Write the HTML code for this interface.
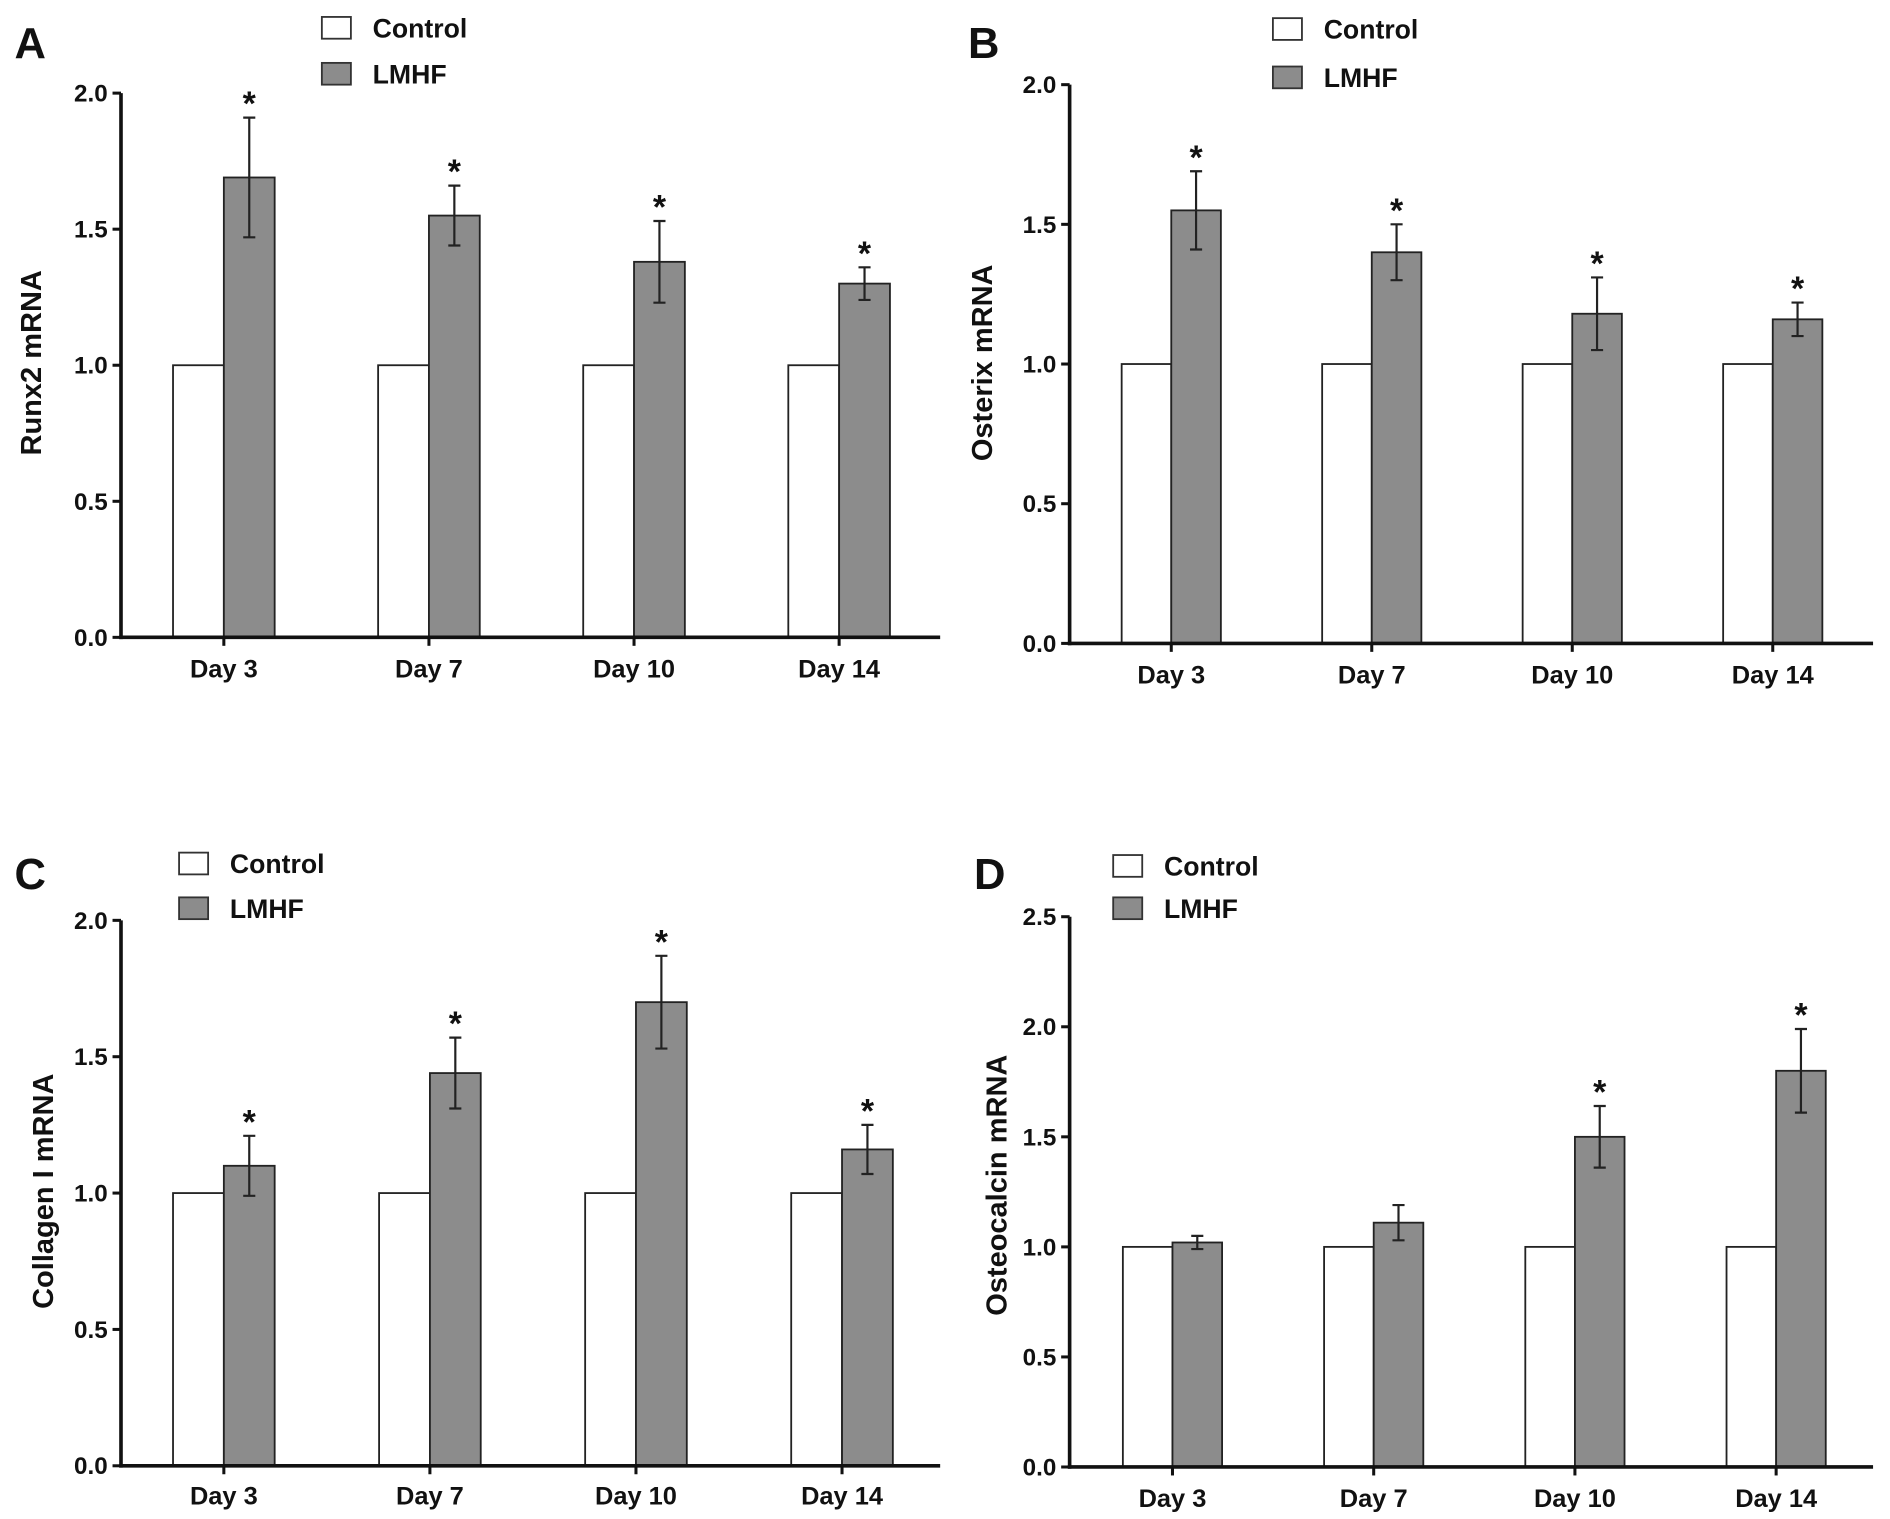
<!DOCTYPE html>
<html><head><meta charset="utf-8">
<style>html,body{margin:0;padding:0;background:#fff}svg{display:block}text{font-family:"Liberation Sans",Arial,sans-serif;font-weight:bold;fill:#111}</style>
</head><body>
<svg id="fig" width="1890" height="1519" viewBox="0 0 1562 1256" preserveAspectRatio="none" xmlns="http://www.w3.org/2000/svg"></svg>
<script>
const categories = ["Day 3","Day 7","Day 10","Day 14"];
const controlA = [1,1,1,1];
const lmhfA = [1.69,1.55,1.38,1.30];
const errA = [0.22,0.11,0.15,0.06];
const starA = [true,true,true,true];
const controlB = [1,1,1,1];
const lmhfB = [1.55,1.40,1.18,1.16];
const errB = [0.14,0.10,0.13,0.06];
const starB = [true,true,true,true];
const controlC = [1,1,1,1];
const lmhfC = [1.10,1.44,1.70,1.16];
const errC = [0.11,0.13,0.17,0.09];
const starC = [true,true,true,true];
const controlD = [1,1,1,1];
const lmhfD = [1.02,1.11,1.50,1.80];
const errD = [0.03,0.08,0.14,0.19];
const starD = [false,false,true,true];
const ticksABC = ["0.0","0.5","1.0","1.5","2.0"];
const ticksD = ["0.0","0.5","1.0","1.5","2.0","2.5"];

const NS="http://www.w3.org/2000/svg";
const svg=document.getElementById('fig');
function mk(tag,attrs,parent,txt){const e=document.createElementNS(NS,tag);for(const k in attrs)e.setAttribute(k,attrs[k]);if(txt!==undefined)e.textContent=txt;(parent||svg).appendChild(e);return e;}

const panels=[
 {id:'a',letter:'A',lx:12,ly:48,ax:100,y0:527,ytop:77,ymax:2,xend:777,g0:143,gs:169.5,bw:42,ctrl:controlA,v:lmhfA,e:errA,s:starA,ticks:ticksABC,label:'Runx2 mRNA',labx:34,laby:300,dayy:560,legx:266,legy:14,leg2:52},
 {id:'b',letter:'B',lx:800,ly:48,ax:884,y0:532,ytop:70,ymax:2,xend:1548,g0:927,gs:165.7,bw:41,ctrl:controlB,v:lmhfB,e:errB,s:starB,ticks:ticksABC,label:'Osterix mRNA',labx:820,laby:300,dayy:565,legx:1052,legy:15,leg2:55},
 {id:'c',letter:'C',lx:12,ly:735,ax:100,y0:1212,ytop:761,ymax:2,xend:777,g0:143,gs:170.3,bw:42,ctrl:controlC,v:lmhfC,e:errC,s:starC,ticks:ticksABC,label:'Collagen I mRNA',labx:44,laby:985,dayy:1244,legx:148,legy:705,leg2:742},
 {id:'d',letter:'D',lx:805,ly:735,ax:884,y0:1213,ytop:758,ymax:2.5,xend:1548,g0:928,gs:166.3,bw:41,ctrl:controlD,v:lmhfD,e:errD,s:starD,ticks:ticksD,label:'Osteocalcin mRNA',labx:832,laby:980,dayy:1246,legx:920,legy:707,leg2:742}
];

panels.forEach(p=>{
 const g=mk('g',{});
 
 
 const y=v=>p.y0-(p.y0-p.ytop)*v/p.ymax;
 const t=mk('text',{x:p.lx,y:p.ly,'font-size':36},g,p.letter);
 
 p.ticks.forEach(tk=>{const v=parseFloat(tk);
  mk('line',{x1:p.ax-7,x2:p.ax,y1:y(v),y2:y(v),stroke:'#111','stroke-width':2.5},g);
  const tl=mk('text',{x:p.ax-11,y:y(v)+7,'font-size':20,'text-anchor':'end'},g,tk);
  
 });
 const yl=mk('text',{x:p.labx,y:p.laby,'font-size':24,'text-anchor':'middle',transform:`rotate(-90 ${p.labx} ${p.laby})`},g,p.label);
 
 categories.forEach((c,i)=>{
  const x=p.g0+i*p.gs;
  const cb=mk('rect',{x:x,y:y(p.ctrl[i]),width:p.bw,height:p.y0-y(p.ctrl[i]),fill:'#fff',stroke:'#222','stroke-width':1.5},g);
  
  const lb=mk('rect',{x:x+p.bw,y:y(p.v[i]),width:p.bw,height:p.y0-y(p.v[i]),fill:'#8c8c8c',stroke:'#222','stroke-width':1.5},g);
  
  const cx=x+p.bw*1.5, yt=y(p.v[i]+p.e[i]), yb=y(p.v[i]-p.e[i]);
  const eb=mk('path',{d:`M${cx} ${yb}V${yt}M${cx-5} ${yt}H${cx+5}M${cx-5} ${yb}H${cx+5}`,stroke:'#222','stroke-width':1.8,fill:'none'},g);
  
  if(p.s[i]){const st=mk('text',{x:cx,y:yt-2,'font-size':28,'text-anchor':'middle','font-weight':'normal'},g,'*');
   }
  const tx=x+p.bw;
  mk('line',{x1:tx,x2:tx,y1:p.y0,y2:p.y0+7,stroke:'#111','stroke-width':2.5},g);
  const dl=mk('text',{x:tx,y:p.dayy,'font-size':21,'text-anchor':'middle'},g,c);
  
 });
 const axy=mk('line',{x1:p.ax,x2:p.ax,y1:p.ytop,y2:p.y0+1.5,stroke:'#111','stroke-width':3},g);
 
 const axx=mk('line',{x1:p.ax-1.5,x2:p.xend,y1:p.y0,y2:p.y0,stroke:'#111','stroke-width':3},g);
 
 const l1=mk('g',{},g);
 mk('rect',{x:p.legx,y:p.legy,width:24,height:18,fill:'#fff',stroke:'#333','stroke-width':1.5},l1);
 mk('text',{x:p.legx+42,y:p.legy+17,'font-size':22},l1,'Control');
 const l2=mk('g',{},g);
 mk('rect',{x:p.legx,y:p.leg2,width:24,height:18,fill:'#8c8c8c',stroke:'#333','stroke-width':1.5},l2);
 mk('text',{x:p.legx+42,y:p.leg2+17,'font-size':22},l2,'LMHF');
});
</script>
</body></html>
